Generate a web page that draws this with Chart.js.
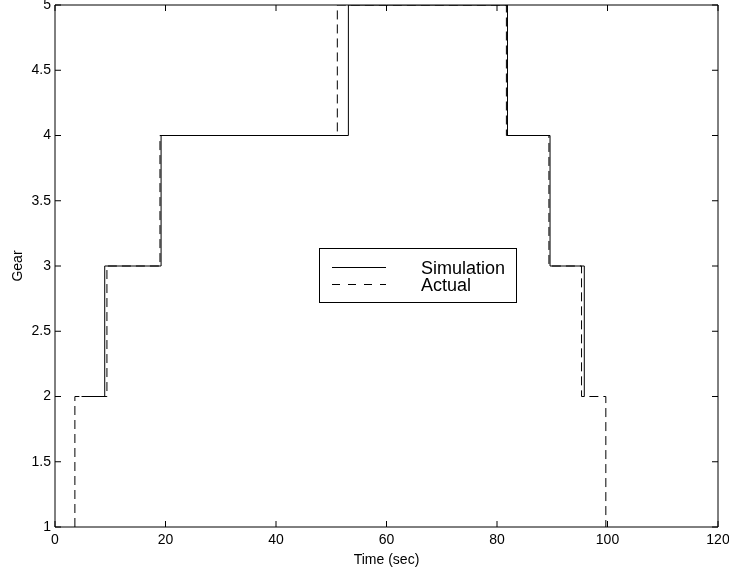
<!DOCTYPE html>
<html>
<head>
<meta charset="utf-8">
<script src="https://cdn.jsdelivr.net/npm/chart.js@4"></script>
<style>
  html, body { margin: 0; padding: 0; background: #fff; }
</style>
</head>
<body>
<canvas id="canvas" width="729" height="572"></canvas>
<script>
// gear shift points: the gear becomes simGear[i] at time simTime[i]
const simTime = [4.8, 9.0, 19.2, 53.1, 81.9, 89.6, 95.8];
const simGear = [2, 3, 4, 5, 4, 3, 2];
const actTime = [3.6, 3.6, 9.4, 19.0, 51.1, 81.7, 89.4, 95.3, 99.7];
const actGear = [1, 2, 3, 4, 5, 4, 3, 2, 1];

const xTicks = [0, 20, 40, 60, 80, 100, 120];
const yTicks = [1, 1.5, 2, 2.5, 3, 3.5, 4, 4.5, 5];
const legendLabels = ["Simulation", "Actual"];

const FONT = "'Liberation Sans', Arial, Helvetica, sans-serif";

const toPoints = (xs, ys) => xs.map((x, i) => ({ x: x, y: ys[i] }));

// MATLAB style box with inward ticks on all four sides, plus the legend
const boxPlugin = {
  id: "box",
  afterDatasetsDraw(chart) {
    const { ctx, chartArea: a, scales } = chart;
    const len = 6;
    ctx.save();
    ctx.strokeStyle = "#000";
    ctx.lineWidth = 1;
    ctx.beginPath();
    ctx.rect(a.left, a.top, a.right - a.left, a.bottom - a.top);
    xTicks.forEach(v => {
      const px = scales.x.getPixelForValue(v);
      ctx.moveTo(px, a.bottom); ctx.lineTo(px, a.bottom - len);
      ctx.moveTo(px, a.top); ctx.lineTo(px, a.top + len);
    });
    yTicks.forEach(v => {
      const py = scales.y.getPixelForValue(v);
      ctx.moveTo(a.left, py); ctx.lineTo(a.left + len, py);
      ctx.moveTo(a.right, py); ctx.lineTo(a.right - len, py);
    });
    ctx.stroke();

    // legend
    const lx = 319.5, ly = 248.5, lw = 197, lh = 54;
    ctx.fillStyle = "#fff";
    ctx.fillRect(lx, ly, lw, lh);
    ctx.strokeRect(lx, ly, lw, lh);
    const rows = [267, 284];
    rows.forEach((y, i) => {
      ctx.beginPath();
      ctx.setLineDash(i === 0 ? [] : [8, 8]);
      ctx.moveTo(332, y + 0.5);
      ctx.lineTo(386, y + 0.5);
      ctx.stroke();
      ctx.setLineDash([]);
      ctx.fillStyle = "#000";
      ctx.font = "18px " + FONT;
      ctx.textBaseline = "middle";
      ctx.fillText(legendLabels[i], 421, y + 2);
    });
    ctx.restore();
  }
};

const ctx = document.getElementById("canvas").getContext("2d");

new Chart(ctx, {
  type: "scatter",
  data: {
    datasets: [
      {
        label: legendLabels[0],
        data: toPoints(simTime, simGear),
        showLine: true,
        stepped: true,
        borderColor: "#000",
        borderWidth: 1,
        pointRadius: 0,
      },
      {
        label: legendLabels[1],
        data: toPoints(actTime, actGear),
        showLine: true,
        stepped: true,
        borderColor: "#000",
        borderWidth: 1,
        borderDash: [9, 5],
        pointRadius: 0,
      },
    ],
  },
  options: {
    responsive: false,
    animation: false,
    layout: { padding: { top: 5, right: 11, left: 0, bottom: 0 } },
    scales: {
      x: {
        type: "linear",
        min: 0,
        max: 120,
        afterBuildTicks: s => { s.ticks = xTicks.map(v => ({ value: v })); },
        afterFit: s => { s.height = 45; s.paddingLeft = 0; s.paddingRight = 0; },
        grid: { display: false, drawTicks: false },
        border: { display: false },
        ticks: { color: "#000", font: { family: FONT, size: 14 }, padding: 5, maxRotation: 0 },
        title: { display: true, text: "Time (sec)", color: "#000", font: { family: FONT, size: 14 }, padding: { top: 0, bottom: 3 } },
      },
      y: {
        type: "linear",
        min: 1,
        max: 5,
        afterBuildTicks: s => { s.ticks = yTicks.map(v => ({ value: v })); },
        afterFit: s => { s.width = 55; s.paddingTop = 0; s.paddingBottom = 0; },
        grid: { display: false, drawTicks: false },
        border: { display: false },
        ticks: { color: "#000", font: { family: FONT, size: 14 }, padding: 4, callback: v => String(v) },
        title: { display: true, text: "Gear", color: "#000", font: { family: FONT, size: 14 }, padding: { top: 10, bottom: 0 } },
      },
    },
    plugins: {
      legend: { display: false },
      tooltip: { enabled: false },
    },
  },
  plugins: [boxPlugin],
});
</script>
</body>
</html>
